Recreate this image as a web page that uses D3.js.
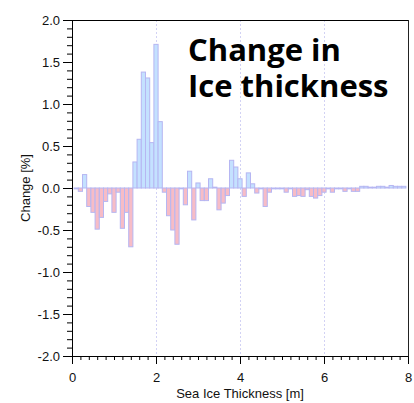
<!DOCTYPE html>
<html>
<head>
<meta charset="utf-8">
<script src="https://cdn.jsdelivr.net/npm/d3@7"></script>
<style>
  html, body { margin: 0; padding: 0; background: #ffffff; }
  svg { display: block; font-family: "Liberation Sans", Arial, sans-serif; }
</style>
</head>
<body>
<svg id="chart" width="414" height="403"></svg>
<script>
// Thickness bins, 0.1 m wide, centred on 0.1 ... 7.9 m
const binWidth = 0.1;
const binCentres = d3.range(1, 80).map(k => +(k * binWidth).toFixed(1));

// Change per bin [%]
const changeValues = [
  -0.01, -0.04, 0.16, -0.22, -0.29, -0.49, -0.35, -0.16, -0.07, -0.29,
  -0.05, -0.48, -0.29, -0.70, 0.31, 0.58, 1.38, 1.31, 0.54, 1.71,
  0.79, -0.05, -0.33, -0.50, -0.67, -0.01, -0.20, 0.20, -0.38, 0.06,
  -0.15, -0.15, 0.11, 0.01, -0.26, -0.18, -0.09, 0.33, 0.25, 0.11,
  -0.10, 0.18, 0.05, -0.06, -0.01, -0.22, -0.05, -0.01, -0.01, -0.01,
  -0.05, -0.01, -0.10, -0.09, -0.10, -0.02, -0.10, -0.12, -0.09, -0.05,
  -0.01, -0.05, -0.01, -0.01, -0.04, -0.01, -0.04, -0.04, 0.02, 0.02,
  0.01, 0.01, 0.02, 0.02, 0.01, 0.03, 0.02, 0.02, 0.02
];

const xTickValues = [0, 2, 4, 6, 8];
const xTickLabels = ["0", "2", "4", "6", "8"];
const yTickValues = [-2, -1.5, -1, -0.5, 0, 0.5, 1, 1.5, 2];
const yTickLabels = ["-2.0", "-1.5", "-1.0", "-0.5", "0.0", "0.5", "1.0", "1.5", "2.0"];
const gridValues = [2, 4, 6];
const titleLines = ["Change in", "Ice thickness"];
const xAxisTitle = "Sea Ice Thickness [m]";
const yAxisTitle = "Change [%]";

const bars = binCentres.map((c, i) => ({ centre: c, value: changeValues[i] }));

const svg = d3.select("#chart");
const plotLeft = 72, plotRight = 408, plotTop = 20, plotBottom = 356;

const x = d3.scaleLinear().domain([0, 8]).range([plotLeft, plotRight]);
const y = d3.scaleLinear().domain([-2, 2]).range([plotBottom, plotTop]);

svg.append("defs").append("clipPath").attr("id", "plot-clip")
  .append("rect").attr("x", plotLeft).attr("y", plotTop)
  .attr("width", plotRight - plotLeft).attr("height", plotBottom - plotTop);

// dotted vertical grid
svg.append("g").selectAll("line").data(gridValues).join("line")
  .attr("x1", d => Math.round(x(d)) + 0.5).attr("x2", d => Math.round(x(d)) + 0.5)
  .attr("y1", plotTop).attr("y2", plotBottom)
  .attr("stroke", "#d2d2f4").attr("stroke-width", 1)
  .attr("stroke-dasharray", "2,2");

// bars
const barW = x(binWidth) - x(0);
svg.append("g").attr("clip-path", "url(#plot-clip)")
  .selectAll("rect").data(bars).join("rect")
  .attr("x", d => x(d.centre - binWidth / 2))
  .attr("width", barW)
  .attr("y", d => Math.min(y(d.value), y(0)))
  .attr("height", d => Math.abs(y(d.value) - y(0)))
  .attr("fill", d => d.value >= 0 ? "#c4e1ff" : "#f7bcc6")
  .attr("stroke", "#b6b6f2")
  .attr("stroke-width", 1);

// y axis: minor then major ticks
const yMinor = d3.range(-20, 21).map(k => k / 10);
svg.append("g").attr("transform", `translate(${plotLeft},0)`)
  .call(d3.axisLeft(y).tickValues(yMinor).tickSize(5).tickFormat(""))
  .call(g => g.select(".domain").remove());
svg.append("g").attr("transform", `translate(${plotLeft},0)`)
  .call(d3.axisLeft(y).tickValues(yTickValues).tickSize(9).tickPadding(3)
    .tickFormat((d, i) => yTickLabels[i]))
  .call(g => g.selectAll("text").attr("font-size", 13).attr("fill", "#111")
    .attr("font-family", "'Liberation Sans', Arial, sans-serif"));

// x axis: minor then major ticks
const xMinor = d3.range(0, 41).map(k => k / 5);
svg.append("g").attr("transform", `translate(0,${plotBottom})`)
  .call(d3.axisBottom(x).tickValues(xMinor).tickSize(4).tickFormat(""))
  .call(g => g.select(".domain").remove());
svg.append("g").attr("transform", `translate(0,${plotBottom})`)
  .call(d3.axisBottom(x).tickValues(xTickValues).tickSize(8).tickPadding(9)
    .tickFormat((d, i) => xTickLabels[i]))
  .call(g => g.selectAll("text").attr("font-size", 13).attr("fill", "#111")
    .attr("font-family", "'Liberation Sans', Arial, sans-serif"));

// frame: top and right edges
svg.append("line").attr("x1", plotLeft).attr("x2", plotRight + 0.5)
  .attr("y1", plotTop + 0.5).attr("y2", plotTop + 0.5).attr("stroke", "#000");
svg.append("line").attr("x1", plotRight + 0.5).attr("x2", plotRight + 0.5)
  .attr("y1", plotTop).attr("y2", plotBottom + 0.5).attr("stroke", "#222");

// axis titles
svg.append("text").attr("x", (plotLeft + plotRight) / 2).attr("y", 397.5)
  .attr("text-anchor", "middle").attr("font-size", 13).attr("fill", "#111")
  .text(xAxisTitle);
svg.append("text")
  .attr("transform", `translate(30,${y(0)}) rotate(-90)`)
  .attr("text-anchor", "middle").attr("font-size", 13).attr("fill", "#111")
  .text(yAxisTitle);

// heading
svg.append("g").selectAll("text").data(titleLines).join("text")
  .attr("x", 188).attr("y", (d, i) => 61 + i * 36)
  .attr("font-family", "'Open Sans', sans-serif")
  .attr("font-weight", 700).attr("font-size", 31).attr("fill", "#000")
  .text(d => d);
</script>
</body>
</html>
